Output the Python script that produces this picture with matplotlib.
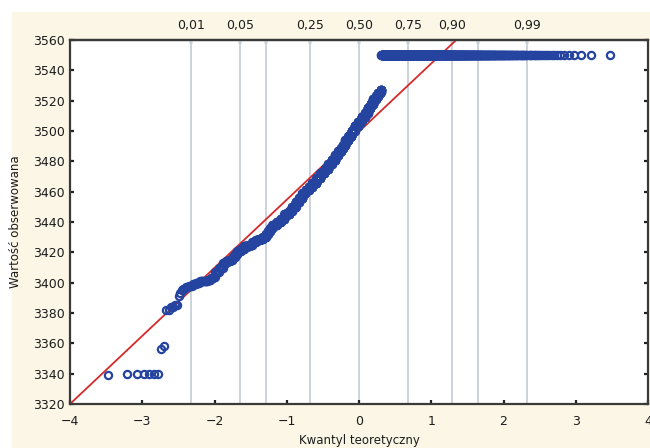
import matplotlib
matplotlib.use("Agg")
import matplotlib.pyplot as plt
import numpy as np
from statistics import NormalDist

# observed values (sorted, distinct) and how many observations sit on each
obs_values = [3339, 3340, 3356, 3358, 3382, 3384, 3385, 3391, 3393, 3395,
              3396, 3397, 3398, 3399, 3400, 3401, 3402, 3403, 3404,
              3407, 3410, 3413, 3414, 3415, 3417, 3419, 3421, 3422, 3424,
              3425, 3427, 3428, 3429, 3430, 3432, 3434, 3436, 3438, 3440,
              3442, 3445, 3447, 3450, 3453, 3456, 3459, 3461, 3463, 3466,
              3469, 3472, 3475, 3478, 3481, 3484, 3487, 3489, 3491, 3494,
              3497, 3500, 3503, 3506, 3509, 3512, 3515, 3518, 3521, 3523,
              3525, 3526, 3527, 3550]
obs_counts = [1, 6, 1, 1, 2, 2, 2, 1, 1, 1,
              2, 3, 3, 4, 4, 11, 5, 4, 4,
              8, 8, 8, 10, 8, 8, 7, 12, 12, 23,
              12, 17, 18, 19, 18, 14, 14, 14, 30, 29,
              30, 42, 23, 33, 33, 33, 33, 36, 35, 49,
              48, 49, 46, 45, 45, 41, 40, 27, 27, 43,
              42, 43, 47, 48, 49, 37, 37, 36, 39, 26,
              26, 10, 9, 946]

# reference line
line_intercept = 3499.6
line_slope = 44.9

x_ticks = [-4, -3, -2, -1, 0, 1, 2, 3, 4]
y_ticks = list(range(3320, 3561, 20))
prob_ticks = [0.01, 0.05, 0.10, 0.25, 0.50, 0.75, 0.90, 0.95, 0.99]
prob_labels = ['0,01', '0,05', '', '0,25', '0,50', '0,75', '0,90', '', '0,99']

blue = '#2444a0'
red = '#d42a2a'
txt = '#1c1c1c'

nd = NormalDist()
obs = np.repeat(obs_values, obs_counts)
n = len(obs)
ranks = np.arange(1, n + 1)
theo = np.array([nd.inv_cdf((r - 0.375) / (n + 0.25)) for r in ranks])

fig = plt.figure(figsize=(6.5, 4.48), dpi=100, facecolor='white')
# cream background panel behind everything
bg = plt.Rectangle((12 / 650, 0), 1, (448 - 12) / 448,
                   transform=fig.transFigure, color='#fbf6e6', zorder=-10)
fig.patches.append(bg)
ax = fig.add_axes([70 / 650, 44 / 448, 578 / 650, 364 / 448])
ax.set_facecolor('white')

# vertical lines at probability quantiles
prob_z = [nd.inv_cdf(p) for p in prob_ticks]
for z in prob_z:
    ax.axvline(z, color='#ccd3da', lw=1.4, zorder=1)

xs = np.array([-4, 4])
ax.plot(xs, line_intercept + line_slope * xs, color=red, lw=1.3, zorder=2)
ax.plot(theo, obs, linestyle='none', marker='o', mfc='none', mec=blue,
        ms=5.2, mew=1.6, zorder=3)

ax.set_xlim(-4, 4)
ax.set_ylim(3320, 3560)
ax.set_xticks(x_ticks)
ax.set_yticks(y_ticks)
ax.tick_params(direction='in', length=3, width=1.6, colors='#222222',
               labelcolor=txt, labelsize=9, right=True)
ax.tick_params(axis='x', pad=8)
for s in ax.spines.values():
    s.set_color('#3a3a3a')
    s.set_linewidth(1.6)

top = ax.secondary_xaxis('top')
top.set_xticks(prob_z)
top.set_xticklabels(prob_labels)
top.tick_params(direction='in', length=3, width=1.6, colors='#222222',
                labelcolor=txt, labelsize=9, pad=6)
top.spines['top'].set_color('#3a3a3a')
top.spines['top'].set_linewidth(1.6)

fig.text(16 / 650, 1 - 222 / 448, 'Wartość obserwowana', rotation=90,
         ha='center', va='center', fontsize=8.5, color=txt)
fig.text(359 / 650, 1 - 440 / 448, 'Kwantyl teoretyczny', ha='center',
         va='center', fontsize=8.5, color=txt)

fig.savefig('out.png', dpi=100, facecolor=fig.get_facecolor())
